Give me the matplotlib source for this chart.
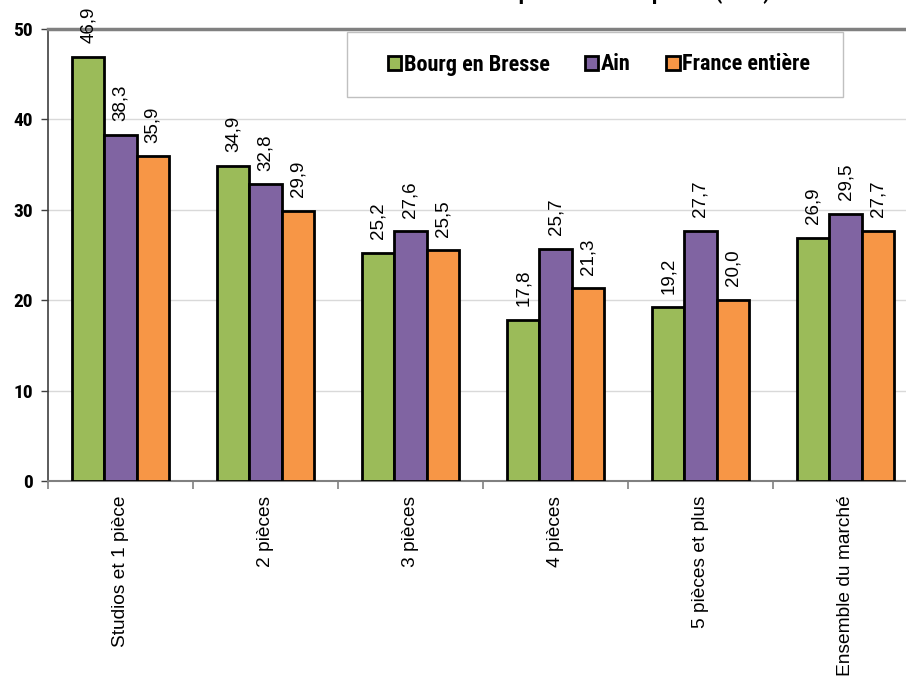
import numpy as np
import matplotlib.pyplot as plt
from matplotlib.patches import Rectangle

# Données : taux par type de logement
categories = ['Studios et 1 pièce', '2 pièces', '3 pièces', '4 pièces',
              '5 pièces et plus', 'Ensemble du marché']
bourg = [46.9, 34.9, 25.2, 17.8, 19.2, 26.9]
ain = [38.3, 32.8, 27.6, 25.7, 27.7, 29.5]
france = [35.9, 29.9, 25.5, 21.3, 20.0, 27.7]
series = ['Bourg en Bresse', 'Ain', 'France entière']
couleurs = ['#9BBB59', '#8064A2', '#F79646']
yticks = [0, 10, 20, 30, 40, 50]

narrow = ['Roboto Condensed', 'IBM Plex Sans Condensed', 'DejaVu Sans']
regular = ['Liberation Sans', 'DejaVu Sans']

fig = plt.figure(figsize=(9.06, 6.84), dpi=100)
ax = fig.add_axes([48/906, 1 - 481/684, 870/906, 452/684])

x = np.arange(len(categories))
largeur = 0.223
valeurs = [bourg, ain, france]

for i, (vals, nom, c) in enumerate(zip(valeurs, series, couleurs)):
    pos = x + (i - 1) * largeur
    barres = ax.bar(pos, vals, largeur, color=c, edgecolor='black',
                    linewidth=2, label=nom, zorder=3)
    for b, v in zip(barres, vals):
        ax.annotate(f'{v:.1f}'.replace('.', ','),
                    (b.get_x() + b.get_width() / 2, v),
                    xytext=(0, 10), textcoords='offset points',
                    rotation=90, ha='center', va='bottom',
                    fontsize=13.5, family=regular, zorder=4)

ax.set_xlim(-0.5, len(categories) - 0.5)
ax.set_ylim(0, 50)

# Quadrillage horizontal
ax.set_yticks(yticks)
ax.set_yticklabels([str(t) for t in yticks], family=narrow,
                   fontweight='bold', fontsize=14)
ax.yaxis.grid(True, color='#D9D9D9', linewidth=1, zorder=0)
ax.tick_params(axis='y', length=5, width=1, color='#404040', pad=6)

# Catégories au centre, séparateurs de groupes en ticks mineurs
ax.set_xticks(x)
ax.set_xticklabels(categories, rotation=90, fontsize=13.8, family=regular,
                   va='top', ha='center')
ax.set_xticks(np.arange(-0.5, len(categories)), minor=True)
ax.tick_params(axis='x', which='major', length=0, pad=10.5)
ax.tick_params(axis='x', which='minor', length=6, width=1.2, color='#808080')

ax.spines['left'].set_color('#404040')
ax.spines['left'].set_linewidth(1.2)
ax.spines['bottom'].set_color('#808080')
ax.spines['bottom'].set_linewidth(1.5)
ax.spines['top'].set_color('#808080')
ax.spines['top'].set_linewidth(2.5)
ax.spines['right'].set_visible(False)

# Cadre de la légende
ax.add_patch(Rectangle(((347 - 48) / 870, (481 - 97) / 452),
                       (843 - 347) / 870, 65 / 452,
                       transform=ax.transAxes, facecolor='white',
                       edgecolor='#C0C0C0', linewidth=1, zorder=5))
leg = ax.legend(loc='center', bbox_to_anchor=((599 - 48) / 870, (481 - 64.5) / 452),
                ncol=3, frameon=False, handlelength=0.6, handleheight=0.6,
                handletextpad=0.12, columnspacing=1.6,
                prop={'family': narrow, 'weight': 'bold', 'size': 16})
leg.set_zorder(6)

# Titre
fig.text(770 / 906, 1 + 0.5 / 684, 'Taux de mobilité par nombre de pièces (en %)',
         ha='right', va='baseline', fontsize=16, fontweight='bold', family=narrow)

fig.savefig('out.png', dpi=100)
